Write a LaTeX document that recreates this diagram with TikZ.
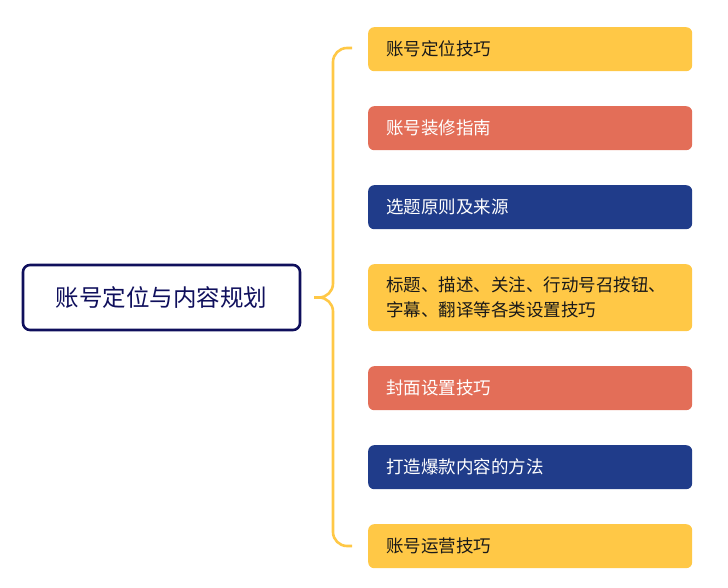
\documentclass[tikz,border=0pt]{standalone}
\usepackage{fontspec}
\setmainfont{Noto Sans CJK SC}
\usepackage{xcolor}
\usetikzlibrary{positioning}

\definecolor{gold}{HTML}{FFC846}
\definecolor{coral}{HTML}{E36E58}
\definecolor{navy}{HTML}{203C8A}
\definecolor{ink}{HTML}{0F0F5C}

\begin{document}
\begin{tikzpicture}[x=1pt, y=-1pt, node distance={34.6pt}, item/.style = {rounded corners=6pt, minimum width=324pt, minimum height=44pt, inner xsep=18pt, text width=288pt, align=left, font=\fontsize{17.5}{25}\selectfont}, yel/.style = {item, fill=gold, text=black!90}, red/.style = {item, fill=coral, text=white}, blu/.style = {item, fill=navy, text=white}]
		\useasboundingbox (0,0) rectangle (728,588);
		\node[draw=ink, line width=2.6pt, rounded corners=7pt, minimum width=277pt, minimum height=65pt, font=\fontsize{23.5}{28}\selectfont, text=ink] (R) at (161.5,297.5) {账号定位与内容规划};
		
		\node[yel, anchor=north west] (A) at (368,27) {账号定位技巧};
		\node[red] (B) [below = of A] {账号装修指南};
		\node[blu] (C) [below = of B] {选题原则及来源};
		\node[yel, minimum height=67pt] (D) [below = of C] {标题、描述、关注、行动号召按钮、\\字幕、翻译等各类设置技巧};
		\node[red] (E) [below = of D] {封面设置技巧};
		\node[blu] (F) [below = of E] {打造爆款内容的方法};
		\node[yel] (G) [below = of F] {账号运营技巧};
		
		\coordinate (tip) at (314,297.5);
		\coordinate (top) at (352,48);
		\coordinate (bot) at (352,546);
		\begin{scope}[gold, line width=2.6pt, rounded corners=14pt]
			\draw (top) -- (333,48) -- (333,297.5) -- (tip);
			\draw (bot) -- (333,546) -- (333,297.5) -- (tip);
		\end{scope}
	\end{tikzpicture}
\end{document}
